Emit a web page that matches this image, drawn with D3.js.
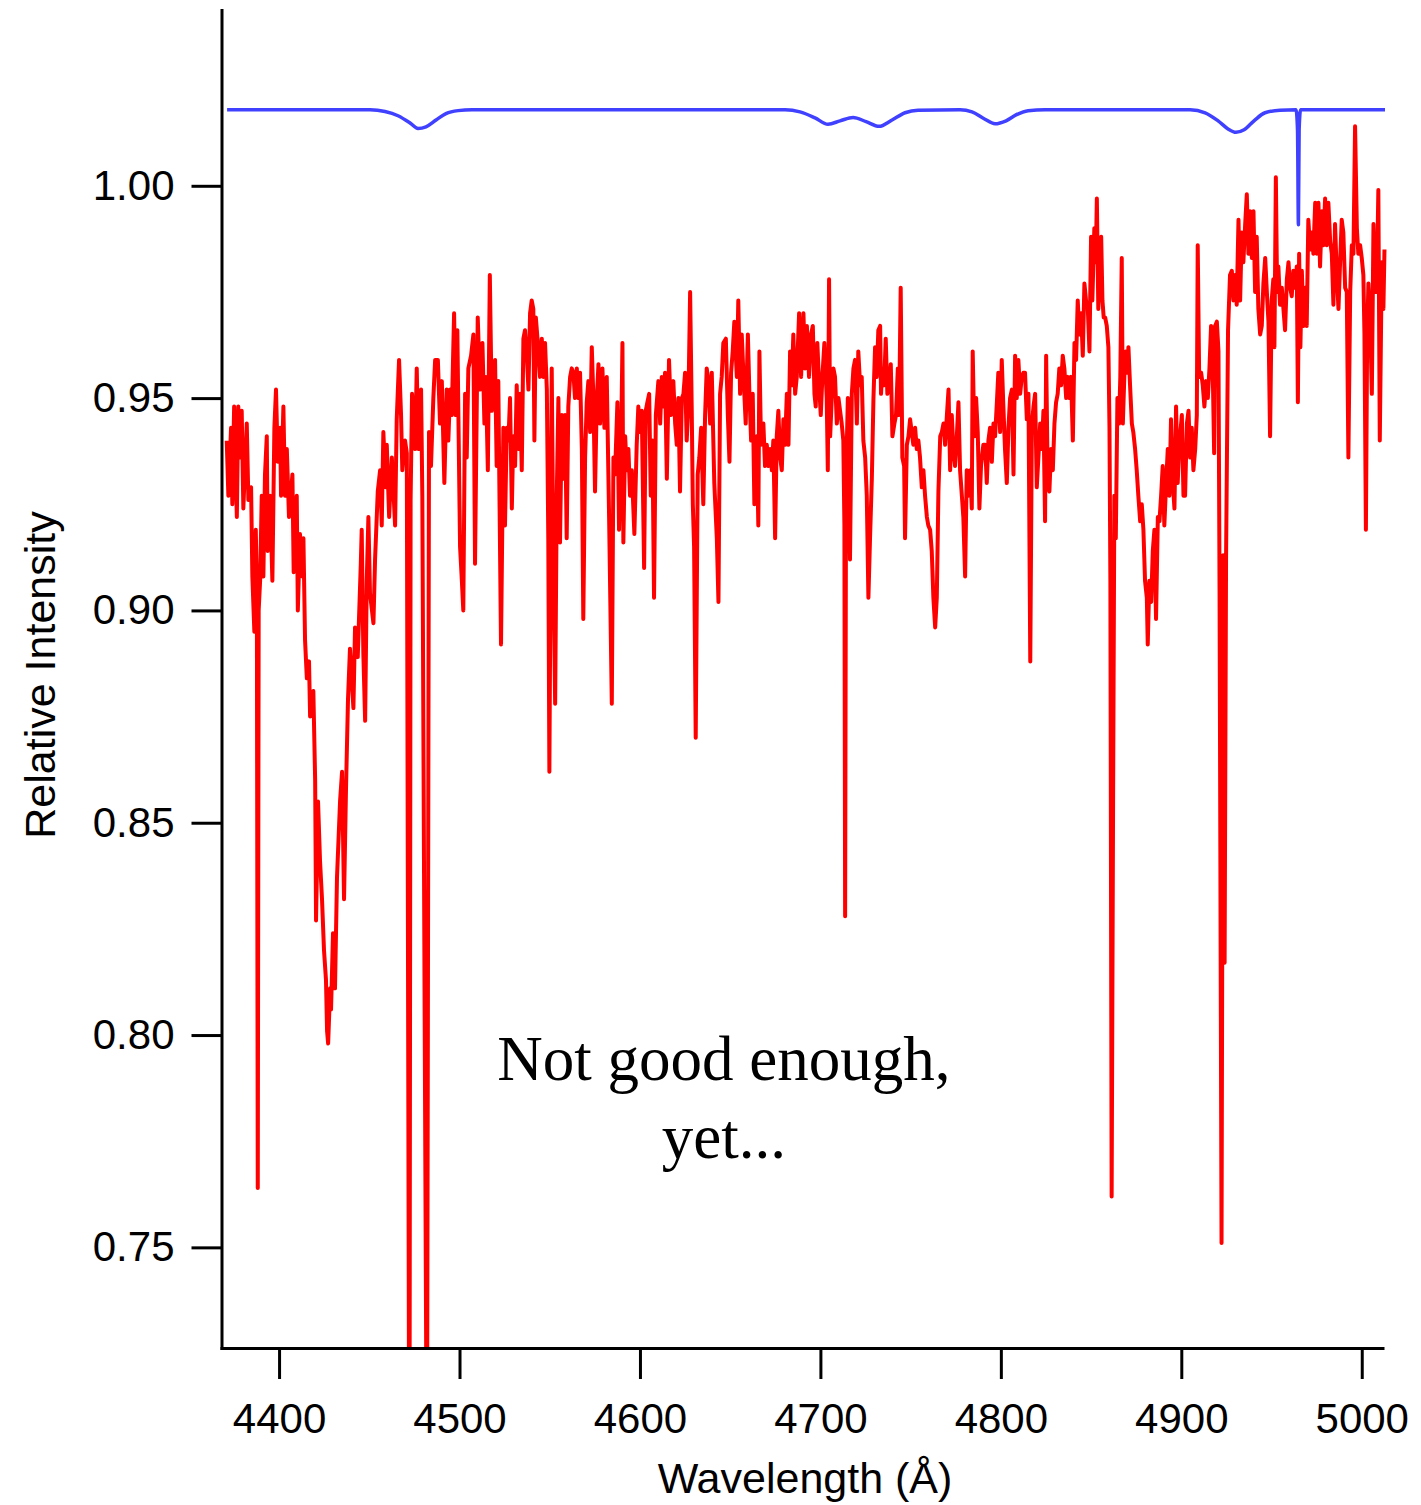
<html>
    <head>
        <title>Spectrum</title>
        <script type="text/javascript" src="https://d3js.org/d3.v7.min.js"></script>
        <style>
            body{
                margin : 0;
                background-color: white;
            }
            svg{
                display : block;
                font-family : "Liberation Sans", Arial, sans-serif;
            }
            .axis path, .axis line{
                stroke : black;
                stroke-width : 3;
            }
            .axis text{
                font-size : 42px;
                fill : black;
            }
        </style>
    </head>

    <body>
        <svg height="1505" width="1421"></svg>

        <script>
            // observed spectrum (red)
            var wavelength = [
                4371.0,4371.9,4373.4,4374.1,4375.1,4376.6,4377.4,4378.4,4379.3,4380.2,
                4382.1,4383.0,4384.5,4385.2,4386.3,4387.1,4387.7,4388.2,4388.7,4389.5,
                4390.4,4391.3,4392.2,4393.2,4393.7,4395.0,4396.3,4397.4,4398.3,4399.3,
                4400.6,4401.1,4402.4,4403.3,4404.3,4405.5,4407.4,4408.1,4409.8,4410.4,
                4411.6,4412.9,4413.5,4414.4,4415.4,4416.6,4417.2,4419.0,4420.0,4420.5,
                4421.6,4422.7,4423.8,4424.9,4426.0,4426.6,4427.2,4428.3,4428.8,4429.9,
                4431.0,4432.1,4433.8,4434.9,4436.0,4437.1,4438.2,4439.3,4441.2,4442.1,
                4443.6,4444.3,4445.3,4445.8,4446.7,4447.7,4448.6,4449.5,4450.4,4452.3,
                4453.2,4454.7,4456.0,4456.9,4457.8,4459.1,4459.7,4461.0,4462.5,4464.3,
                4465.2,4466.5,4467.6,4468.3,4469.8,4470.8,4472.1,4472.3,4472.9,4473.7,
                4475.4,4476.3,4477.2,4478.7,4479.4,4481.8,4482.0,4483.1,4484.2,4485.5,
                4486.5,4488.0,4489.2,4490.2,4491.6,4492.9,4493.8,4494.8,4495.7,4497.0,
                4497.9,4498.8,4500.3,4501.3,4502.1,4503.1,4504.0,4504.9,4506.4,4507.7,
                4508.6,4510.1,4511.4,4512.7,4513.8,4514.6,4515.7,4516.8,4517.9,4518.8,
                4519.7,4520.6,4521.5,4523.0,4524.3,4525.2,4526.2,4527.1,4528.0,4529.0,
                4529.8,4530.8,4531.7,4532.6,4533.6,4534.5,4535.4,4536.3,4537.3,4538.2,
                4539.1,4540.0,4540.9,4541.5,4542.3,4543.4,4544.6,4545.6,4546.5,4547.4,
                4548.4,4549.2,4549.8,4551.1,4552.0,4553.0,4553.9,4554.8,4555.7,4556.7,
                4557.6,4558.5,4559.4,4560.3,4561.3,4562.2,4563.1,4564.0,4565.0,4565.9,
                4566.8,4567.8,4568.6,4569.6,4570.5,4571.4,4572.4,4573.3,4574.2,4575.1,
                4576.1,4577.0,4577.9,4579.2,4580.3,4581.6,4582.9,4584.4,4585.3,4586.2,
                4587.5,4588.4,4589.5,4590.3,4590.8,4591.8,4592.7,4593.6,4594.5,4595.5,
                4596.9,4598.2,4599.1,4600.1,4601.0,4602.3,4603.2,4604.1,4605.1,4606.0,
                4606.9,4607.8,4608.8,4610.2,4611.2,4612.1,4613.0,4613.9,4614.9,4616.1,
                4617.2,4618.5,4619.5,4620.4,4621.3,4622.2,4623.2,4624.1,4625.0,4625.9,
                4626.8,4627.8,4628.7,4629.3,4630.0,4630.9,4632.0,4632.9,4633.9,4635.1,
                4636.1,4637.0,4637.9,4638.9,4639.8,4641.2,4642.6,4643.5,4644.4,4645.3,
                4646.2,4647.6,4648.7,4649.6,4650.5,4651.4,4652.3,4653.7,4654.5,4655.5,
                4656.4,4657.3,4658.6,4659.8,4660.6,4661.6,4662.5,4663.4,4664.7,4665.6,
                4666.2,4667.1,4668.4,4669.3,4670.3,4671.2,4672.1,4673.1,4673.9,4674.9,
                4675.8,4676.7,4677.7,4678.6,4679.5,4680.4,4681.4,4682.3,4683.2,4684.1,
                4685.0,4686.0,4686.9,4688.2,4689.3,4690.6,4691.5,4692.5,4693.7,4694.8,
                4695.8,4696.7,4697.4,4698.3,4699.3,4700.2,4701.1,4702.2,4703.5,4704.1,
                4704.8,4705.4,4706.3,4707.2,4708.1,4709.1,4710.0,4710.9,4711.8,4712.7,
                4713.3,4713.7,4714.2,4715.2,4716.4,4717.4,4718.3,4719.2,4720.2,4721.0,
                4722.0,4722.9,4723.8,4724.8,4725.7,4726.6,4727.5,4728.5,4729.4,4730.3,
                4731.2,4732.1,4733.1,4733.6,4734.3,4735.3,4736.2,4737.1,4738.1,4739.0,
                4739.9,4741.0,4741.9,4742.9,4743.6,4744.5,4745.4,4746.4,4746.9,4747.9,
                4748.8,4749.7,4750.6,4751.5,4752.5,4753.4,4754.3,4755.2,4756.2,4757.1,
                4758.0,4759.0,4759.8,4760.8,4761.7,4762.6,4763.6,4764.5,4765.4,4766.4,
                4767.3,4768.2,4769.1,4770.1,4771.0,4771.9,4772.8,4773.7,4774.6,4775.6,
                4776.5,4777.4,4778.4,4779.2,4780.2,4781.1,4782.0,4783.0,4783.9,4784.4,
                4785.3,4786.3,4787.2,4788.1,4789.0,4790.3,4791.3,4792.2,4793.1,4794.0,
                4795.0,4795.9,4796.8,4797.8,4798.6,4799.6,4800.5,4801.4,4802.3,4803.3,
                4804.2,4805.1,4806.1,4807.0,4807.9,4808.8,4809.7,4810.7,4811.6,4812.5,
                4813.4,4814.4,4815.3,4816.3,4817.2,4818.1,4819.0,4819.9,4820.8,4821.8,
                4822.7,4823.6,4824.5,4825.1,4826.0,4826.9,4827.8,4828.8,4829.7,4830.6,
                4831.5,4832.4,4833.4,4834.3,4835.2,4836.2,4837.1,4838.0,4838.9,4839.9,
                4840.8,4841.7,4842.6,4843.5,4844.5,4845.4,4846.3,4847.2,4848.2,4849.1,
                4850.0,4850.7,4851.8,4852.6,4853.2,4854.0,4855.0,4855.6,4856.3,4857.0,
                4857.8,4858.7,4859.6,4860.2,4860.7,4861.4,4862.2,4862.9,4863.7,4864.6,
                4865.5,4866.2,4867.0,4867.6,4868.5,4869.2,4870.0,4870.7,4871.6,4872.6,
                4873.4,4874.4,4875.3,4876.2,4877.2,4878.1,4879.0,4879.9,4880.9,4881.4,
                4882.3,4883.3,4884.2,4885.1,4886.0,4887.0,4887.9,4888.8,4889.7,4890.6,
                4891.6,4892.5,4893.4,4894.3,4895.3,4896.2,4897.1,4898.0,4898.9,4900.3,
                4901.2,4902.1,4903.1,4904.0,4904.9,4905.8,4906.7,4907.7,4908.6,4909.1,
                4909.9,4911.0,4911.9,4912.8,4913.7,4914.7,4915.6,4916.5,4917.4,4918.2,
                4918.7,4919.7,4920.6,4921.2,4922.3,4923.2,4924.0,4924.8,4925.9,4927.0,
                4928.0,4928.9,4929.8,4930.7,4931.7,4932.6,4933.5,4934.4,4935.4,4936.3,
                4937.2,4938.1,4939.1,4940.0,4940.9,4941.8,4942.7,4943.7,4944.6,4945.5,
                4946.5,4947.4,4948.3,4949.2,4950.1,4951.0,4951.6,4952.4,4953.1,4953.8,
                4954.7,4955.7,4956.6,4957.5,4958.5,4959.4,4960.3,4961.2,4962.1,4963.1,
                4964.0,4964.6,4965.3,4966.0,4966.8,4967.7,4968.6,4969.5,4970.4,4971.4,
                4972.3,4973.2,4974.2,4975.1,4976.0,4976.9,4977.9,4978.7,4979.7,4980.6,
                4981.5,4982.5,4983.4,4984.3,4985.2,4986.2,4987.1,4988.0,4988.9,4989.8,
                4990.8,4991.7,4992.6,4993.6,4994.5,4995.4,4996.3,4997.3,4998.1,4999.1,
                5000.0,5000.9,5001.5,5002.3,5003.0,5003.7,5004.6,5005.6,5006.5,5007.4,
                5008.3,5009.2,5010.0,5011.1,5012.0,5012.6
            ];
            var intensity = [
                0.940,0.927,0.943,0.925,0.948,0.922,0.948,0.936,0.947,0.924,
                0.944,0.926,0.929,0.908,0.895,0.919,0.905,0.764,0.900,0.907,
                0.927,0.908,0.932,0.941,0.914,0.927,0.907,0.943,0.952,0.935,
                0.943,0.927,0.948,0.927,0.938,0.922,0.932,0.909,0.927,0.900,
                0.918,0.908,0.917,0.893,0.884,0.888,0.875,0.881,0.860,0.827,
                0.855,0.841,0.832,0.820,0.813,0.801,0.798,0.811,0.806,0.824,
                0.811,0.837,0.855,0.862,0.832,0.858,0.879,0.891,0.877,0.896,
                0.889,0.898,0.911,0.919,0.890,0.874,0.907,0.922,0.904,0.897,
                0.912,0.928,0.933,0.920,0.942,0.929,0.939,0.922,0.936,0.920,
                0.945,0.959,0.946,0.933,0.940,0.937,0.700,0.700,0.926,0.951,
                0.938,0.957,0.938,0.952,0.927,0.700,0.700,0.942,0.934,0.950,
                0.959,0.959,0.944,0.954,0.930,0.952,0.940,0.952,0.946,0.970,
                0.946,0.966,0.915,0.907,0.900,0.951,0.936,0.957,0.960,0.965,
                0.911,0.969,0.952,0.963,0.944,0.955,0.933,0.979,0.947,0.956,
                0.959,0.934,0.954,0.892,0.943,0.920,0.943,0.940,0.950,0.924,
                0.941,0.934,0.953,0.938,0.951,0.933,0.964,0.966,0.960,0.952,
                0.970,0.973,0.971,0.940,0.969,0.963,0.955,0.964,0.955,0.963,
                0.952,0.917,0.862,0.957,0.912,0.878,0.927,0.950,0.916,0.946,
                0.931,0.946,0.917,0.948,0.955,0.957,0.956,0.950,0.957,0.950,
                0.956,0.938,0.898,0.936,0.949,0.954,0.942,0.962,0.950,0.928,
                0.950,0.958,0.944,0.957,0.943,0.955,0.922,0.878,0.936,0.932,
                0.949,0.919,0.938,0.963,0.916,0.941,0.933,0.938,0.927,0.933,
                0.918,0.939,0.948,0.942,0.947,0.910,0.947,0.949,0.951,0.927,
                0.940,0.903,0.946,0.954,0.944,0.955,0.948,0.956,0.931,0.959,
                0.946,0.954,0.944,0.939,0.950,0.928,0.950,0.951,0.956,0.940,
                0.948,0.975,0.947,0.925,0.915,0.870,0.932,0.936,0.943,0.925,
                0.946,0.957,0.954,0.944,0.956,0.930,0.917,0.902,0.951,0.955,
                0.963,0.964,0.946,0.935,0.956,0.961,0.968,0.955,0.973,0.951,
                0.965,0.956,0.944,0.965,0.952,0.940,0.951,0.925,0.941,0.920,
                0.961,0.939,0.944,0.934,0.939,0.934,0.938,0.933,0.940,0.917,
                0.941,0.947,0.936,0.933,0.945,0.939,0.951,0.939,0.961,0.953,
                0.965,0.951,0.955,0.970,0.955,0.970,0.957,0.967,0.955,0.965,
                0.967,0.951,0.948,0.963,0.953,0.946,0.955,0.963,0.950,0.933,
                0.978,0.941,0.950,0.957,0.955,0.944,0.950,0.947,0.944,0.940,
                0.920,0.828,0.930,0.950,0.912,0.951,0.957,0.959,0.944,0.961,
                0.953,0.955,0.940,0.936,0.927,0.903,0.917,0.931,0.950,0.962,
                0.955,0.966,0.967,0.951,0.957,0.953,0.964,0.951,0.953,0.958,
                0.941,0.944,0.946,0.957,0.946,0.976,0.936,0.934,0.917,0.939,
                0.941,0.945,0.942,0.939,0.943,0.938,0.940,0.936,0.929,0.933,
                0.927,0.922,0.920,0.919,0.914,0.903,0.896,0.903,0.928,0.941,
                0.942,0.944,0.939,0.946,0.952,0.933,0.946,0.938,0.934,0.941,
                0.949,0.933,0.927,0.922,0.908,0.933,0.927,0.933,0.924,0.961,
                0.941,0.950,0.942,0.924,0.934,0.939,0.939,0.930,0.940,0.943,
                0.935,0.944,0.941,0.949,0.956,0.942,0.959,0.948,0.938,0.930,
                0.943,0.950,0.952,0.932,0.960,0.950,0.959,0.951,0.955,0.956,
                0.956,0.945,0.951,0.888,0.944,0.948,0.951,0.929,0.936,0.944,
                0.938,0.947,0.921,0.960,0.930,0.928,0.938,0.933,0.944,0.949,
                0.951,0.957,0.953,0.960,0.957,0.950,0.955,0.950,0.955,0.940,
                0.963,0.959,0.973,0.965,0.970,0.960,0.977,0.973,0.971,0.961,
                0.988,0.973,0.990,0.982,0.997,0.971,0.986,0.988,0.973,0.969,
                0.969,0.967,0.962,0.943,0.907,0.762,0.855,0.927,0.917,0.950,
                0.944,0.955,0.983,0.944,0.956,0.961,0.956,0.962,0.953,0.944,
                0.942,0.938,0.933,0.927,0.921,0.925,0.919,0.907,0.903,0.892,
                0.907,0.902,0.914,0.919,0.898,0.922,0.921,0.927,0.934,0.920,
                0.930,0.938,0.927,0.945,0.930,0.924,0.948,0.930,0.939,0.946,
                0.927,0.927,0.944,0.947,0.936,0.943,0.933,0.938,0.946,0.986,
                0.955,0.956,0.953,0.948,0.954,0.950,0.957,0.967,0.957,0.937,
                0.967,0.968,0.961,0.905,0.751,0.913,0.817,0.912,0.966,0.979,
                0.980,0.973,0.979,0.972,0.992,0.973,0.989,0.982,0.991,0.998,
                0.984,0.994,0.983,0.994,0.975,0.988,0.971,0.965,0.967,0.977,
                0.983,0.975,0.968,0.941,0.973,0.978,0.962,1.002,0.975,0.981,
                0.972,0.976,0.971,0.966,0.978,0.982,0.976,0.974,0.980,0.976,
                0.981,0.949,0.984,0.962,0.980,0.967,0.976,0.967,0.992,0.985,
                0.989,0.984,0.996,0.984,0.996,0.981,0.994,0.986,0.997,0.986,
                0.996,0.987,0.984,0.972,0.991,0.979,0.971,0.982,0.992,0.989,
                0.976,0.975,0.936,0.975,0.986,0.984,1.014,0.990,0.984,0.986,
                0.983,0.979,0.965,0.919,0.965,0.977,0.970,0.951,0.991,0.975,
                0.975,0.999,0.940,0.982,0.971,0.985
            ];

            // model spectrum (blue)
            var modelWavelength = [
                4371.2,4450.4,4458.7,4465.9,4472.6,4477.0,4481.4,4487.0,4492.5,4499.2,
                4506.9,4680.4,4688.7,4697.0,4704.2,4710.9,4718.1,4725.3,4732.5,4739.7,
                4746.9,4754.1,4777.4,4784.0,4790.7,4796.8,4802.9,4808.4,4815.1,4824.5,
                4904.9,4913.2,4920.4,4925.9,4930.3,4934.8,4940.3,4946.4,4954.7,4963.6,
                4964.4,4964.9,4965.3,4966.1,5012.9
            ];
            var modelIntensity = [
                1.0179,1.0179,1.0175,1.0165,1.0148,1.0135,1.0139,1.0155,1.0170,1.0177,
                1.0179,1.0179,1.0174,1.0160,1.0145,1.0153,1.0161,1.0151,1.0140,1.0155,
                1.0172,1.0178,1.0179,1.0174,1.0158,1.0146,1.0153,1.0167,1.0177,1.0179,
                1.0179,1.0172,1.0153,1.0134,1.0126,1.0132,1.0153,1.0172,1.0178,1.0179,
                1.0132,0.9908,1.0132,1.0179,1.0179
            ];

            var xTicks = [4400,4500,4600,4700,4800,4900,5000];
            var yTicks = [0.75,0.80,0.85,0.90,0.95,1.00];
            var xDomain = [4368.1, 5011.5];
            var yDomain = [0.7263, 1.0414];

            var svg = d3.select("svg"),
                plotLeft = 221.5,
                plotRight = 1382.5,
                plotTop = 10,
                plotBottom = 1348;

            var xScale = d3.scaleLinear().domain(xDomain).range([plotLeft, plotRight]),
                yScale = d3.scaleLinear().domain(yDomain).range([plotBottom, plotTop]);

            svg.append("defs").append("clipPath")
                .attr("id", "plotclip")
                .append("rect")
                .attr("x", plotLeft)
                .attr("y", 0)
                .attr("width", 1421 - plotLeft)
                .attr("height", plotBottom);

            var line = d3.line()
                .x(function(d){ return xScale(d[0]); })
                .y(function(d){ return yScale(d[1]); });

            var observed = wavelength.map(function(w, i){ return [w, intensity[i]]; });
            var model = modelWavelength.map(function(w, i){ return [w, modelIntensity[i]]; });

            var plot = svg.append("g").attr("clip-path", "url(#plotclip)");

            plot.append("path")
                .datum(model)
                .attr("d", line.curve(d3.curveMonotoneX))
                .attr("fill", "none")
                .attr("stroke", "#4040ff")
                .attr("stroke-width", 3.5)
                .attr("stroke-linejoin", "round");

            plot.append("path")
                .datum(observed)
                .attr("d", line.curve(d3.curveLinear))
                .attr("fill", "none")
                .attr("stroke", "#ff0000")
                .attr("stroke-width", 4)
                .attr("stroke-linejoin", "round");

            // axes
            svg.append("g")
                .attr("class", "axis")
                .attr("transform", "translate(0," + plotBottom + ")")
                .call(d3.axisBottom(xScale)
                    .tickValues(xTicks)
                    .tickFormat(d3.format("d"))
                    .tickSize(31)
                    .tickSizeOuter(0)
                    .tickPadding(24));

            svg.append("g")
                .attr("class", "axis")
                .attr("transform", "translate(" + plotLeft + ",0)")
                .call(d3.axisLeft(yScale)
                    .tickValues(yTicks)
                    .tickFormat(d3.format(".2f"))
                    .tickSize(30)
                    .tickSizeOuter(0)
                    .tickPadding(17));

            svg.selectAll(".axis .domain").attr("stroke-linecap", "square");

            // axis titles
            svg.append("text")
                .attr("x", (plotLeft + plotRight) / 2 + 3)
                .attr("y", 1493)
                .attr("text-anchor", "middle")
                .style("font-size", "43px")
                .text("Wavelength (Å)");

            svg.append("text")
                .attr("transform", "translate(55,675) rotate(-90)")
                .attr("text-anchor", "middle")
                .style("font-size", "43px")
                .text("Relative Intensity");

            // annotation
            var note = svg.append("text")
                .attr("text-anchor", "middle")
                .style("font-family", "'Liberation Serif', 'Times New Roman', serif")
                .style("font-size", "63px");
            note.append("tspan")
                .attr("x", xScale(4646.5))
                .attr("y", yScale(0.7894))
                .text("Not good enough,");
            note.append("tspan")
                .attr("x", xScale(4646.5))
                .attr("y", yScale(0.7894) + 78)
                .text("yet...");
        </script>
    </body>
</html>
